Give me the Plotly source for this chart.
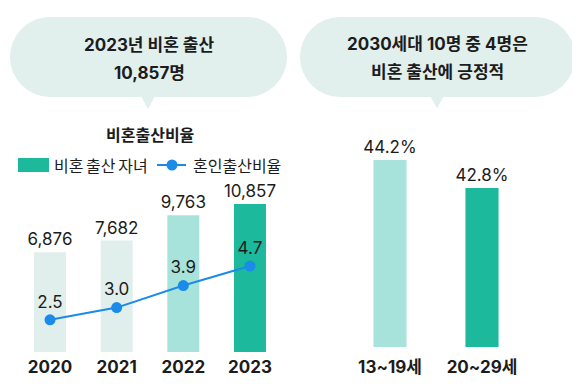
import plotly.graph_objects as go

# ---- data ----
years = ["2020", "2021", "2022", "2023"]
births = [6876, 7682, 9763, 10857]          # 비혼 출산 자녀
ratio = [2.5, 3.0, 3.9, 4.7]                 # 혼인출산비율 (%)
age_groups = ["13~19세", "20~29세"]
positive = [44.2, 42.8]                      # 비혼 출산에 긍정적 (%)

bar_colors = ["#e0efec", "#e0efec", "#a7e3da", "#1cb99d"]
right_colors = ["#a7e3da", "#1cb99d"]
LINE = "#1a8be8"
BUBBLE = "#e1efed"
TXT = "#1c1c1c"
KR = "Noto Sans CJK KR"
MIX = "Inter, Noto Sans CJK KR"

# page body has an 8px margin; lay out in reference-pixel coordinates
OFF = 8
W, H = 572, 372
def fx(p): return (p - OFF) / W
def fy(p): return 1 - (p - OFF) / H

fig = go.Figure()

fig.add_trace(go.Bar(
    x=years, y=births, marker=dict(color=bar_colors, line=dict(width=0)),
    width=0.48, text=[f"{v:,}" for v in births], textposition="outside",
    constraintext="none", cliponaxis=False,
    textfont=dict(family=MIX, size=17, color=TXT),
    xaxis="x", yaxis="y", showlegend=False, name="비혼 출산 자녀"))

fig.add_trace(go.Scatter(
    x=years, y=ratio, mode="lines+markers+text",
    line=dict(color=LINE, width=2), marker=dict(color=LINE, size=11),
    text=[f"{v:.1f}" for v in ratio], textposition="top center",
    textfont=dict(family=MIX, size=17, color=TXT), cliponaxis=False,
    xaxis="x", yaxis="y2", showlegend=False, name="혼인출산비율"))

fig.add_trace(go.Bar(
    x=age_groups, y=positive, marker=dict(color=right_colors, line=dict(width=0)),
    width=0.36, text=[f"{v:.1f}%" for v in positive], textposition="outside",
    constraintext="none", cliponaxis=False,
    textfont=dict(family=MIX, size=17, color=TXT),
    xaxis="x2", yaxis="y3", showlegend=False, name="긍정적"))

shapes = []
def bubble(x0, x1, y0, y1, tip_x, tip_y):
    r = (y1 - y0) / 2
    shapes.append(dict(type="rect", xref="paper", yref="paper", x0=fx(x0 + r), x1=fx(x1 - r),
                       y0=fy(y1), y1=fy(y0), fillcolor=BUBBLE, line=dict(width=0), layer="below"))
    for cx0 in (x0, x1 - 2 * r):
        shapes.append(dict(type="circle", xref="paper", yref="paper", x0=fx(cx0), x1=fx(cx0 + 2 * r),
                           y0=fy(y1), y1=fy(y0), fillcolor=BUBBLE, line=dict(width=0), layer="below"))
    shapes.append(dict(type="path", xref="paper", yref="paper",
                       path=f"M {fx(tip_x-7)} {fy(y1-1)} L {fx(tip_x+7)} {fy(y1-1)} L {fx(tip_x)} {fy(tip_y)} Z",
                       fillcolor=BUBBLE, line=dict(width=0), layer="below"))

bubble(10, 287, 17, 97, 148, 109)
bubble(300, 575, 17, 97, 437, 108)

# legend (manual)
shapes.append(dict(type="rect", xref="paper", yref="paper", x0=fx(18), x1=fx(49), y0=fy(172), y1=fy(158),
                   fillcolor="#1cb99d", line=dict(width=0)))
shapes.append(dict(type="line", xref="paper", yref="paper", x0=fx(157), x1=fx(186), y0=fy(165), y1=fy(165),
                   line=dict(color=LINE, width=2)))
shapes.append(dict(type="circle", xref="paper", yref="paper", x0=fx(166.5), x1=fx(177.5), y0=fy(170.5), y1=fy(159.5),
                   fillcolor=LINE, line=dict(width=0)))

ann = []
def text(s, x, y, size=16, bold=False, xanchor="center", family=MIX):
    ann.append(dict(text=s, x=fx(x), y=fy(y), xref="paper", yref="paper", showarrow=False,
                    xanchor=xanchor, yanchor="middle",
                    font=dict(family=family, size=size, color=TXT, weight="bold" if bold else "normal")))

text("2023년 비혼 출산", 149, 45, 17, True)
text("10,857명", 149, 73, 17, True)
text("2030세대 10명 중 4명은", 437, 44, 17, True)
text("비혼 출산에 긍정적", 437, 72, 17, True)
text("비혼출산비율", 150, 134, 16, True, family=KR)
text("비혼\u2006출산\u2006자녀", 52, 165, 16, False, "left", family=KR)
text("혼인출산비율", 191, 165, 16, False, "left", family=KR)

tickfont = dict(family=MIX, size=17, color=TXT, weight="bold")
fig.update_layout(
    width=W, height=H, margin=dict(l=0, r=0, t=0, b=0),
    paper_bgcolor="white", plot_bgcolor="white",
    shapes=shapes, annotations=ann,
    xaxis=dict(domain=[fx(16.7), fx(283.3)], showgrid=False, zeroline=False, showline=False,
               ticks="", tickfont=tickfont, ticklabelstandoff=3),
    yaxis=dict(domain=[fy(352), fy(180)], type="log", range=[3.428, 4.134], visible=False),
    yaxis2=dict(domain=[fy(352), fy(180)], overlaying="y", range=[1.185, 8.214], visible=False),
    xaxis2=dict(domain=[fx(344), fx(528)], anchor="y3", showgrid=False, zeroline=False, showline=False,
                ticks="", tickfont=tickfont, ticklabelstandoff=8),
    yaxis3=dict(domain=[fy(347), fy(130)], anchor="x2", range=[34.85, 45.7], visible=False),
)

fig.write_html("out.html")
